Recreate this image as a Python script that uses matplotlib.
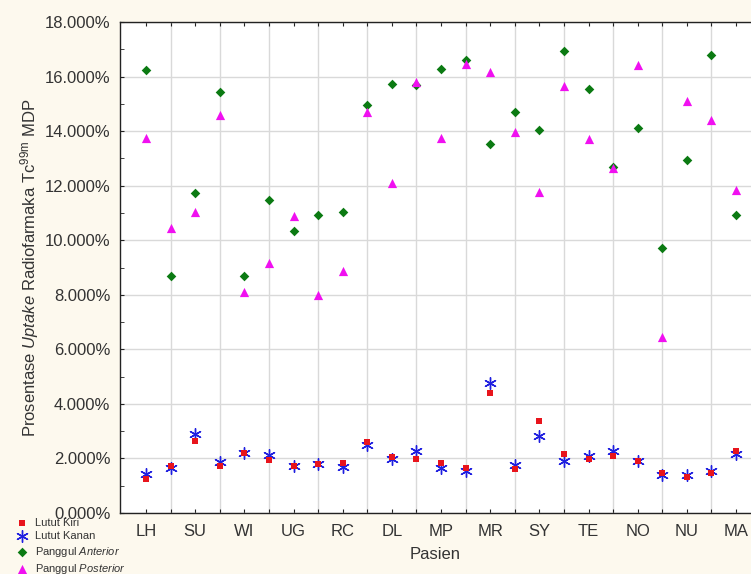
import numpy as np
import matplotlib
matplotlib.use("Agg")
import matplotlib.pyplot as plt
from matplotlib.ticker import FuncFormatter, MultipleLocator

plt.rcParams['font.family'] = ['Liberation Sans', 'DejaVu Sans']
plt.rcParams['mathtext.fontset'] = 'custom'
plt.rcParams['mathtext.rm'] = 'Liberation Sans'
plt.rcParams['mathtext.it'] = 'Liberation Sans:italic'

# pasien (label hanya tiap dua pasien)
pasien_label = ['LH', 'SU', 'WI', 'UG', 'RC', 'DL', 'MP', 'MR', 'SY', 'TE', 'NO', 'NU', 'MA']

# uptake (%) per pasien
lutut_kiri = [1.25, 1.73, 2.65, 1.73, 2.20, 1.93, 1.73, 1.80, 1.83, 2.59,
              2.06, 1.97, 1.82, 1.65, 4.39, 1.60, 3.37, 2.16, 1.98, 2.08,
              1.91, 1.48, 1.33, 1.46, 2.26]
lutut_kanan = [1.42, 1.64, 2.88, 1.88, 2.20, 2.13, 1.73, 1.78, 1.70, 2.49,
               1.98, 2.27, 1.66, 1.55, 4.78, 1.75, 2.81, 1.89, 2.10, 2.28,
               1.91, 1.40, 1.40, 1.55, 2.15]
panggul_anterior = [16.25, 8.69, 11.72, 15.42, 8.69, 11.49, 10.35, 10.92, 11.03, 14.97,
                    15.73, 15.68, 16.29, 16.61, 13.53, 14.70, 14.05, 16.92, 15.53, 12.68,
                    14.13, 9.71, 12.93, 16.78, 10.92]
panggul_posterior = [13.73, 10.44, 11.05, 14.60, 8.10, 9.16, 10.90, 7.99, 8.86, 14.71,
                     12.08, 15.81, 13.73, 16.46, 16.15, 13.97, 11.77, 15.66, 13.70, 12.63,
                     16.41, 6.44, 15.09, 14.42, 11.85]

x = np.arange(len(lutut_kiri))

bg = '#fdf9ee'
txt = '#333333'

fig = plt.figure(figsize=(7.51, 5.74), dpi=100, facecolor=bg)
ax = fig.add_axes([120 / 751, 1 - 513 / 574, 631 / 751, 491 / 574])
ax.set_facecolor('white')

ax.scatter(x, panggul_anterior, marker='D', s=24, color='#0b7a12', zorder=3,
           label=r'Panggul $\it{Anterior}$', linewidths=0)
ax.scatter(x, panggul_posterior, marker='^', s=44, color='#f010f0', zorder=3,
           label=r'Panggul $\it{Posterior}$', linewidths=0)
ax.scatter(x, lutut_kanan, marker=(6, 2, 0), s=70, color='#1f1fe0', zorder=4,
           label='Lutut Kanan', linewidths=1.0)
ax.scatter(x, lutut_kiri, marker='s', s=14, color='#e8141c', zorder=5,
           label='Lutut Kiri', linewidths=0)

ax.set_xlim(-1.06, 24.61)
ax.set_ylim(0, 18)

ax.set_xticks(x)
ax.set_xticklabels([pasien_label[i // 2] if i % 2 == 0 else '' for i in x])
ax.yaxis.set_major_locator(MultipleLocator(2))
ax.yaxis.set_minor_locator(MultipleLocator(1))
ax.yaxis.set_major_formatter(FuncFormatter(lambda v, p: f'{v:.3f}%'))

ax.tick_params(axis='both', direction='in', length=3, width=0.8, color='#222222',
               labelsize=12, labelcolor=txt, top=True)
ax.tick_params(axis='y', which='minor', direction='in', length=3, color='#222222')
ax.tick_params(axis='x', pad=8)
ax.tick_params(axis='y', pad=7)

# grid vertikal hanya pada pasien tanpa label
for xi in x[1::2]:
    ax.axvline(xi, color='#d9d9d9', lw=1.0, zorder=0)
ax.yaxis.grid(True, color='#d9d9d9', lw=1.0, zorder=0)
ax.set_axisbelow(True)

for s in ['left', 'bottom', 'top']:
    ax.spines[s].set_color('#222222')
    ax.spines[s].set_linewidth(1.0)
ax.spines['right'].set_visible(False)

ax.set_xlabel('Pasien', fontsize=12, color=txt, labelpad=6)
fig.text(30 / 751, 1 - 268 / 574,
         r'Prosentase $\it{Uptake}$ Radiofarmaka Tc$^{\rm 99m}$ MDP',
         rotation=90, ha='center', va='center', fontsize=12, color=txt)

handles, labels = ax.get_legend_handles_labels()
order = [3, 2, 0, 1]
fig.legend([handles[i] for i in order], [labels[i] for i in order],
           loc='upper left', bbox_to_anchor=(16 / 751, 1 - 518 / 574),
           frameon=False, fontsize=8, labelcolor=txt, handletextpad=0.7,
           handlelength=1.0, labelspacing=0.3, borderaxespad=0, borderpad=0)

fig.savefig('out.png', dpi=100, facecolor=bg)
